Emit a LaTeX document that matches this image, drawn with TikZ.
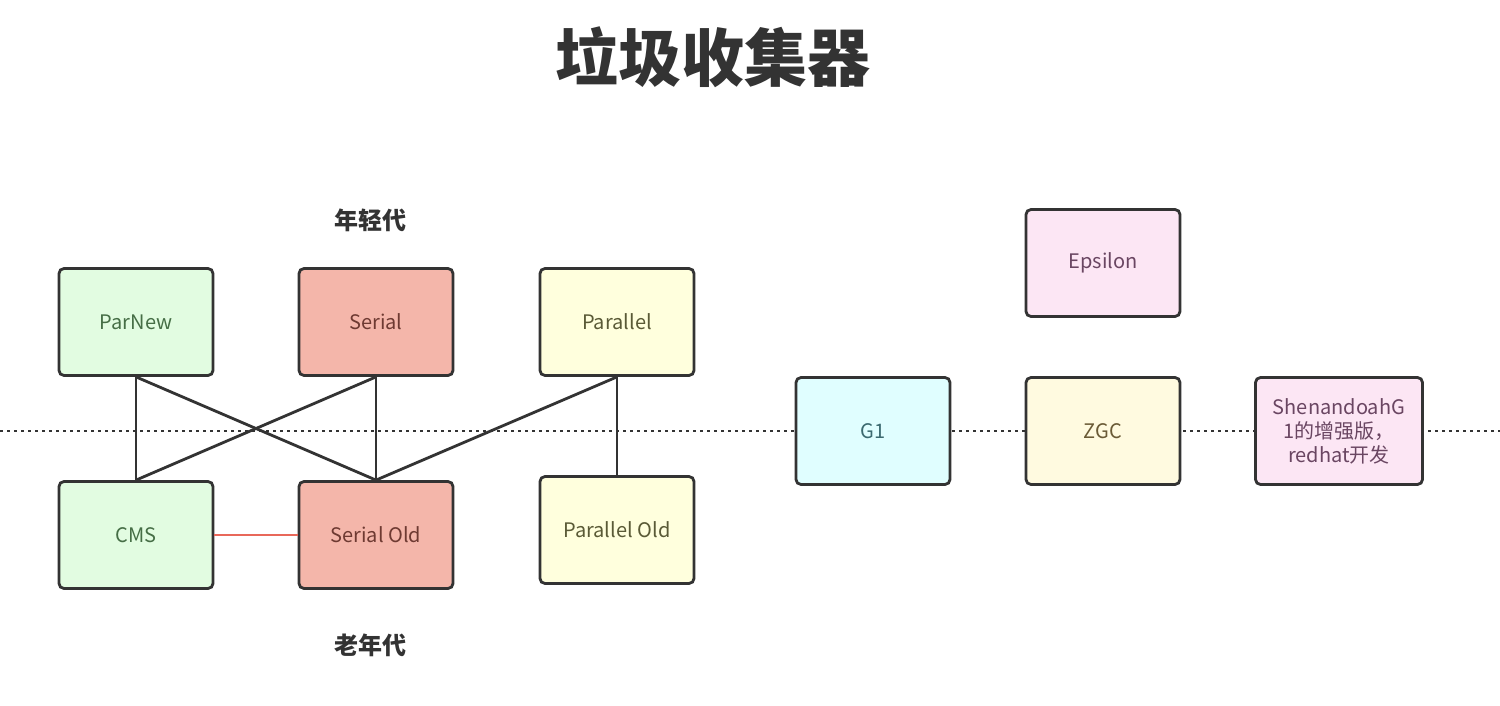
\documentclass[tikz,border=0pt]{standalone}
\usepackage{fontspec}
\setmainfont{Noto Sans CJK SC}
\definecolor{edgec}{HTML}{333333}
\definecolor{gfill}{HTML}{E2FCE1}
\definecolor{gtext}{HTML}{466E46}
\definecolor{rfill}{HTML}{F4B6AA}
\definecolor{rtext}{HTML}{6E3A32}
\definecolor{yfill}{HTML}{FFFFDD}
\definecolor{ytext}{HTML}{5A5A36}
\definecolor{cfill}{HTML}{E0FEFF}
\definecolor{ctext}{HTML}{3C6A70}
\definecolor{zfill}{HTML}{FFFAE0}
\definecolor{ztext}{HTML}{6A5A36}
\definecolor{pfill}{HTML}{FCE6F4}
\definecolor{ptext}{HTML}{6A4662}
\definecolor{redline}{HTML}{E8685A}
\tikzset{
  gcbox/.style={draw=edgec, line width=2.8pt, rounded corners=5pt,
    minimum width=154pt, minimum height=107pt, inner sep=2pt,
    font=\fontsize{20}{24}\selectfont, align=center},
  conn/.style={draw=edgec, line width=2.8pt},
  dotline/.style={draw=edgec, line width=2.8pt, dash pattern=on 2.6pt off 4.4pt},
  sectlabel/.style={font=\fontsize{24}{28}\selectfont\bfseries, text=edgec}
}
\begin{document}
\begin{tikzpicture}[x=1pt,y=-1pt]
\useasboundingbox (0,0) rectangle (1500,706);
\fill[white] (0,0) rectangle (1500,706);
\coordinate (dl) at (0,431);
\coordinate (dr) at (1500,431);
\draw[dotline] (dl) -- (dr);

\node[font=\fontsize{63}{70}\selectfont\bfseries, text=edgec] (title) at (713,57) {垃圾收集器};
\node[sectlabel] (young) at (370,220) {年轻代};
\node[sectlabel] (old) at (370,645) {老年代};

\node[gcbox, fill=gfill, text=gtext] (parnew) at (136,322) {ParNew};
\node[gcbox, fill=rfill, text=rtext] (serial) at (376,322) {Serial};
\node[gcbox, fill=yfill, text=ytext] (parallel) at (617,322) {Parallel};
\node[gcbox, fill=gfill, text=gtext] (cms) at (136,535) {CMS};
\node[gcbox, fill=rfill, text=rtext] (serialold) at (376,535) {Serial Old};
\node[gcbox, fill=yfill, text=ytext] (parallelold) at (617,530) {Parallel Old};

\node[gcbox, fill=cfill, text=ctext] (g1) at (873,431) {G1};
\node[gcbox, fill=zfill, text=ztext] (zgc) at (1103,431) {ZGC};
\node[gcbox, fill=pfill, text=ptext] (epsilon) at (1103,263) {Epsilon};
\node[gcbox, fill=pfill, text=ptext, minimum width=167pt] (shen) at (1339,431) {ShenandoahG\\1的增强版，\\redhat开发};

\draw[conn] (parnew.south) -- (cms.north);
\draw[conn] (parnew.south) -- (serialold.north);
\draw[conn] (serial.south) -- (cms.north);
\draw[conn] (serial.south) -- (serialold.north);
\draw[conn] (parallel.south) -- (serialold.north);
\draw[conn] (parallel.south) -- (parallelold.north);
\draw[draw=redline, line width=2.8pt] (cms.east) -- (serialold.west);
\end{tikzpicture}
\end{document}
